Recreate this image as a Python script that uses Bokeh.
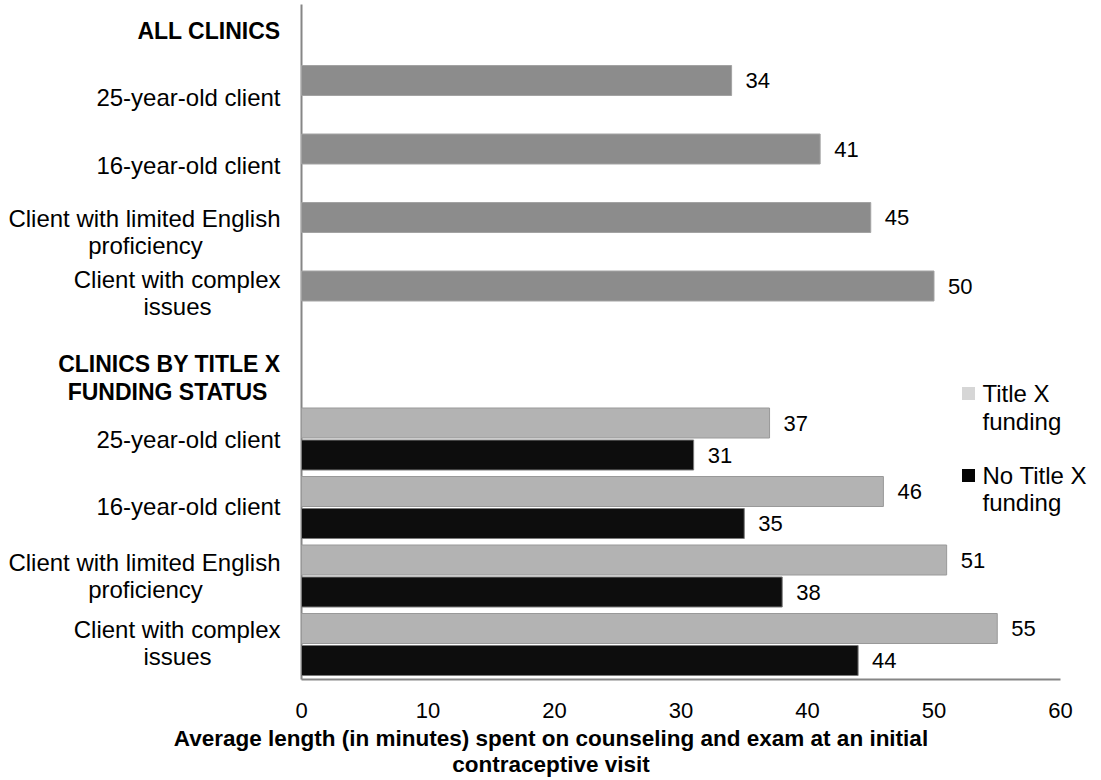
from bokeh.plotting import figure
from bokeh.models import Range1d, FixedTicker, ColumnDataSource
from bokeh.core.properties import value
from bokeh.embed import file_html
from bokeh.resources import INLINE

# ---------------- data ----------------
category_lines = [
    ["25-year-old client"],
    ["16-year-old client"],
    ["Client with limited English", "proficiency"],
    ["Client with complex", "issues"],
]
header_all = ["ALL CLINICS"]
header_status = ["CLINICS BY TITLE X", "FUNDING STATUS"]
all_clinics = [34, 41, 45, 50]
title_x = [37, 46, 51, 55]
no_title_x = [31, 35, 38, 44]
legend_title_x = ["Title X", "funding"]
legend_no_title_x = ["No Title X", "funding"]
x_ticks = [0, 10, 20, 30, 40, 50, 60]
x_title = "Average length (in minutes) spent on counseling and exam at an initial\ncontraceptive visit"

# ---------------- layout ----------------
W, H = 1101, 780
FRAME_BOTTOM = 684
X0 = 301.0             # px of value 0
PX_PER_MIN = 12.65     # px per minute
ROW = 68.5             # px per row unit

def xv(px):
    return (px - X0) / PX_PER_MIN

def yv(py):
    return py / ROW

FONT = "Liberation Sans"
LBL = "24px"

p = figure(width=W, height=H, output_backend="svg", toolbar_location=None,
           x_range=Range1d(xv(0), xv(W)),
           y_range=Range1d(yv(FRAME_BOTTOM), yv(0)),
           min_border_left=0, min_border_right=0, min_border_top=0,
           min_border_bottom=H - FRAME_BOTTOM)
p.outline_line_color = None
p.grid.visible = False
p.yaxis.visible = False
p.background_fill_color = "white"
p.border_fill_color = "white"

xa = p.xaxis[0]
xa.ticker = FixedTicker(ticks=x_ticks)
xa.axis_line_color = None
xa.major_tick_line_color = None
xa.minor_tick_line_color = None
xa.major_tick_out = 0
xa.major_tick_in = 0
xa.major_label_standoff = 18
xa.major_label_text_font = FONT
xa.major_label_text_font_size = "22px"
xa.major_label_text_color = "black"
xa.axis_label = x_title
xa.axis_label_standoff = 5
xa.axis_label_text_font = FONT
xa.axis_label_text_font_size = "22.5px"
xa.axis_label_text_font_style = "bold"
xa.axis_label_text_color = "black"
xa.axis_label_text_line_height = 1.05

# row centres (px)
A_c = [80 + ROW * i for i in range(len(all_clinics))]
B_c = [438.5 + ROW * i for i in range(len(title_x))]
BAR_H = 30 / ROW
B_OFF = 16 / ROW
AXIS_Y = 679

# axis lines
p.segment(x0=[0], y0=[yv(4)], x1=[0], y1=[yv(AXIS_Y)], line_color="#868686", line_width=2)
p.segment(x0=[0], y0=[yv(AXIS_Y)], x1=[x_ticks[-1]], y1=[yv(AXIS_Y)], line_color="#868686", line_width=2)

# bars
srcA = ColumnDataSource(dict(y=[yv(c) for c in A_c], v=all_clinics, t=[str(v) for v in all_clinics]))
srcT = ColumnDataSource(dict(y=[yv(c) - B_OFF for c in B_c], v=title_x, t=[str(v) for v in title_x]))
srcN = ColumnDataSource(dict(y=[yv(c) + B_OFF for c in B_c], v=no_title_x, t=[str(v) for v in no_title_x]))

p.hbar(y="y", left=0, right="v", height=BAR_H, source=srcA, fill_color="#8c8c8c", line_color="#a3a3a3", line_width=1)
p.hbar(y="y", left=0, right="v", height=BAR_H, source=srcT, fill_color="#b3b3b3", line_color="#999999", line_width=1)
p.hbar(y="y", left=0, right="v", height=BAR_H, source=srcN, fill_color="#0d0d0d", line_color="#7a7a7a", line_width=1)

for s in (srcA, srcT, srcN):
    p.text(x="v", y="y", text="t", source=s, x_offset=14, text_align="left", text_baseline="middle",
           text_font=value(FONT), text_font_size=value("22px"), text_color="black")

# category labels
LINE = 27
RIGHT_X = xv(280)
second_line_cx = {2: 145, 3: 177}
A_dy = [16.7, 16, 14.5, 7]
B_dy = [0.5, -1, 0, -2]
r_x, r_y, r_t = [], [], []
c_x, c_y, c_t = [], [], []
for centers, dys in ((A_c, A_dy), (B_c, B_dy)):
    for i, lines in enumerate(category_lines):
        bc = centers[i] + dys[i]
        first = bc - (len(lines) - 1) * LINE / 2
        r_x.append(RIGHT_X); r_y.append(yv(first)); r_t.append(lines[0])
        if len(lines) > 1:
            c_x.append(xv(second_line_cx[i])); c_y.append(yv(first + LINE)); c_t.append(lines[1])

p.text(x=r_x, y=r_y, text=r_t, text_align="right", text_baseline="middle",
       text_font=value(FONT), text_font_size=value(LBL), text_color="black")
p.text(x=c_x, y=c_y, text=c_t, text_align="center", text_baseline="middle",
       text_font=value(FONT), text_font_size=value(LBL), text_color="black")

# group headers (bold)
p.text(x=[RIGHT_X, RIGHT_X], y=[yv(30.7), yv(363)], text=[header_all[0], header_status[0]],
       text_align="right", text_baseline="middle", text_font=value(FONT),
       text_font_size=value("23px"), text_font_style="bold", text_color="black")
p.text(x=[xv(167)], y=[yv(391)], text=[header_status[1]],
       text_align="center", text_baseline="middle", text_font=value(FONT),
       text_font_size=value("23px"), text_font_style="bold", text_color="black")

# legend (manual)
p.scatter(x=[xv(968), xv(968)], y=[yv(393), yv(475)], marker="square", size=13,
          fill_color=["#d6d6d6", "#050505"], line_color=None)
leg_x = xv(982)
p.text(x=[leg_x] * 4, y=[yv(392.5), yv(421), yv(475), yv(502)],
       text=legend_title_x + legend_no_title_x, text_align="left", text_baseline="middle",
       text_font=value(FONT), text_font_size=value("24px"), text_color="black")

open("out.html", "w").write(file_html(p, INLINE))
